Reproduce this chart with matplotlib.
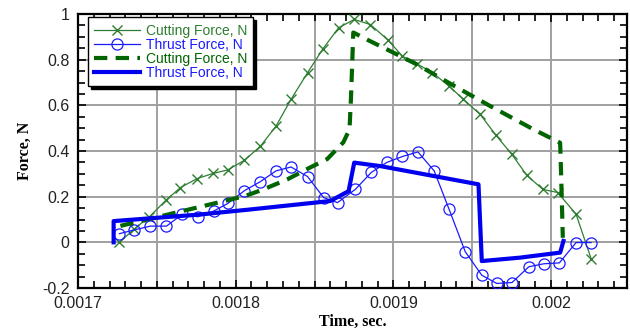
import matplotlib
matplotlib.use("Agg")
import matplotlib.pyplot as plt
from matplotlib.ticker import MultipleLocator, FixedLocator, FixedFormatter

# ---- data ----
cut_exp_t = [0.0017263, 0.0017354, 0.0017453, 0.0017559, 0.0017650, 0.0017755,
             0.0017857, 0.0017949, 0.0018055, 0.0018157, 0.0018256, 0.0018351,
             0.0018456, 0.0018554, 0.0018653, 0.0018752, 0.0018854, 0.0018963,
             0.0019058, 0.0019150, 0.0019248, 0.0019354, 0.0019445, 0.0019551,
             0.0019652, 0.0019752, 0.0019847, 0.0019948, 0.0020043, 0.0020159,
             0.0020254]
cut_exp_f = [0.0, 0.057, 0.112, 0.185, 0.240, 0.279, 0.302, 0.317, 0.359, 0.421,
             0.509, 0.626, 0.743, 0.848, 0.940, 0.976, 0.954, 0.888, 0.815, 0.782,
             0.743, 0.684, 0.626, 0.560, 0.468, 0.385, 0.293, 0.232, 0.218, 0.123,
             -0.071]

thr_exp_t = [0.0017263, 0.0017354, 0.0017459, 0.0017561, 0.0017660, 0.0017759,
             0.0017861, 0.0017952, 0.0018055, 0.0018157, 0.0018256, 0.0018351,
             0.0018456, 0.0018558, 0.0018646, 0.0018759, 0.0018860, 0.0018959,
             0.0019058, 0.0019156, 0.0019259, 0.0019354, 0.0019456, 0.0019561,
             0.0019656, 0.0019753, 0.0019859, 0.0019954, 0.0020053, 0.0020159,
             0.0020254]
thr_exp_f = [0.038, 0.054, 0.071, 0.071, 0.122, 0.112, 0.137, 0.171, 0.226, 0.266,
             0.313, 0.330, 0.288, 0.196, 0.174, 0.232, 0.306, 0.350, 0.376, 0.396,
             0.313, 0.144, -0.041, -0.144, -0.180, -0.176, -0.107, -0.094, -0.090,
             -0.001, -0.001]

cut_sim_t = [0.0017269, 0.0018061, 0.0018176, 0.0018328, 0.0018473, 0.0018581,
             0.0018683, 0.0018722, 0.0018731, 0.0018740, 0.0018746, 0.0018833,
             0.0018959, 0.0019150, 0.0019371, 0.0019614, 0.0019888, 0.0020058,
             0.0020064, 0.0020075]
cut_sim_f = [0.072, 0.203, 0.232, 0.276, 0.328, 0.365, 0.438, 0.495, 0.626, 0.800,
             0.919, 0.888, 0.845, 0.779, 0.691, 0.597, 0.495, 0.436, 0.300, 0.020]

thr_sim_t = [0.0017226, 0.0017226, 0.0017776, 0.0018093, 0.0018505, 0.0018600,
             0.0018716, 0.0018752, 0.0018917, 0.0019540, 0.0019561, 0.0019804,
             0.0020058, 0.0020079]
thr_sim_f = [0.0, 0.093, 0.122, 0.144, 0.174, 0.181, 0.224, 0.349, 0.334, 0.254,
             -0.082, -0.067, -0.045, 0.006]

x_tick_vals = [0.0017, 0.0018, 0.0019, 0.0020]
x_tick_labels = ["0.0017", "0.0018", "0.0019", "0.002"]
y_tick_vals = [-0.2, 0.0, 0.2, 0.4, 0.6, 0.8, 1.0]
y_tick_labels = ["-0.2", "0", "0.2", "0.4", "0.6", "0.8", "1"]
legend_labels = ["Cutting Force, N", "Thrust Force, N", "Cutting Force, N", "Thrust Force, N"]

GREEN_THIN = "#2e7d32"
GREEN_THICK = "#006400"
BLUE = "#1a1aff"
BLUE_THICK = "#0000ee"

fig = plt.figure(figsize=(6.3, 3.33), dpi=100)
ax = fig.add_axes([78/630, 1-288/333, (627-78)/630, (288-14)/333])

ax.plot(cut_exp_t, cut_exp_f, color=GREEN_THIN, lw=0.9, marker="x", ms=7, mew=1.0,
        label=legend_labels[0], zorder=3)
ax.plot(thr_exp_t, thr_exp_f, color=BLUE, lw=0.9, marker="o", ms=8, mfc="none",
        mew=0.9, label=legend_labels[1], zorder=3)
ax.plot(cut_sim_t, cut_sim_f, color=GREEN_THICK, lw=3.0, ls=(0, (3.2, 2.0)),
        label=legend_labels[2], zorder=4)
ax.plot(thr_sim_t, thr_sim_f, color=BLUE_THICK, lw=3.0, label=legend_labels[3], zorder=4)

ax.set_xlim(0.0017, 0.0020482)
ax.set_ylim(-0.2, 1.0)

# grid lines at 0.00005 in x, 0.2 in y
grid_x = [0.0017 + i * 0.00005 for i in range(1, 7)]
for gx in grid_x:
    ax.axvline(gx, color="#a0a0a0", lw=1.4, zorder=1)
for gy in y_tick_vals[1:-1]:
    ax.axhline(gy, color="#a0a0a0", lw=1.4, zorder=1)

ax.xaxis.set_major_locator(FixedLocator(x_tick_vals))
ax.xaxis.set_major_formatter(FixedFormatter(x_tick_labels))
ax.xaxis.set_minor_locator(MultipleLocator(0.00001))
ax.yaxis.set_major_locator(FixedLocator(y_tick_vals))
ax.yaxis.set_major_formatter(FixedFormatter(y_tick_labels))
ax.yaxis.set_minor_locator(MultipleLocator(0.05))

ax.tick_params(which="both", direction="in", top=True, right=True, width=1.2,
               labelsize=11.5, labelfontfamily="Liberation Sans")
ax.tick_params(which="major", length=6, pad=6)
ax.tick_params(which="minor", length=5)
ax.tick_params(axis="y", labelcolor="#222222")
ax.tick_params(axis="x", labelcolor="#222222")
for s in ax.spines.values():
    s.set_linewidth(1.6)

ax.set_xlabel("Time, sec.", fontfamily="Liberation Serif", fontweight="bold",
              fontsize=11.5, labelpad=2)
ax.set_ylabel("Force, N", fontfamily="Liberation Serif", fontweight="bold",
              fontsize=11.5, labelpad=7)

leg = ax.legend(loc="upper left", bbox_to_anchor=(0.018, 0.988), borderaxespad=0,
                fancybox=False, framealpha=1, edgecolor="black",
                shadow={"color": "black", "alpha": 1},
                prop={"family": "Liberation Sans", "size": 10},
                handlelength=3.3, handletextpad=0.4, labelspacing=0.0,
                borderpad=0.45, numpoints=1)
leg.get_frame().set_linewidth(1.0)
for txt, col in zip(leg.get_texts(), [GREEN_THIN, BLUE, GREEN_THICK, BLUE]):
    txt.set_color(col)
leg.set_zorder(10)

fig.savefig("out.png", dpi=100)
